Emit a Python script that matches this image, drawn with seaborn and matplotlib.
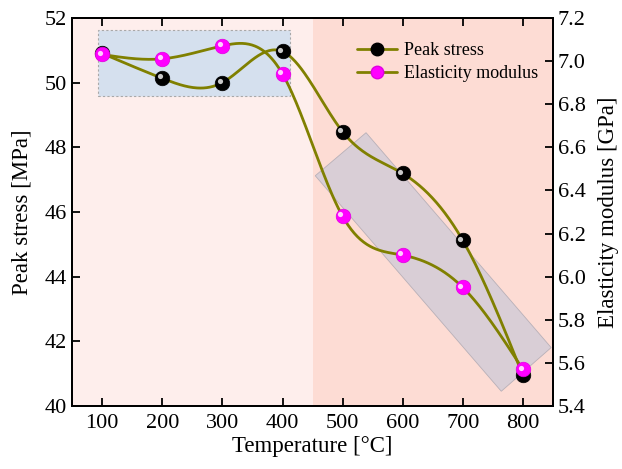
import numpy as np
import pandas as pd
import matplotlib
matplotlib.use("Agg")
import matplotlib.pyplot as plt
import seaborn as sns
from matplotlib.patches import Rectangle, Polygon
from matplotlib.lines import Line2D

# DATA
temperature = [100, 200, 300, 400, 500, 600, 700, 800]
peak_stress = [50.9, 50.13, 50.0, 50.96, 48.48, 47.19, 45.12, 40.95]
elastic_modulus = [7.03, 7.01, 7.07, 6.94, 6.28, 6.10, 5.95, 5.57]


def natural_spline(x, y, n=400):
    # natural cubic spline, used only to draw the smooth connecting line
    x = np.asarray(x, float)
    y = np.asarray(y, float)
    k = len(x)
    h = np.diff(x)
    A = np.zeros((k, k))
    b = np.zeros(k)
    A[0, 0] = A[-1, -1] = 1
    for i in range(1, k - 1):
        A[i, i - 1] = h[i - 1]
        A[i, i] = 2 * (h[i - 1] + h[i])
        A[i, i + 1] = h[i]
        b[i] = 6 * ((y[i + 1] - y[i]) / h[i] - (y[i] - y[i - 1]) / h[i - 1])
    m = np.linalg.solve(A, b)
    xs = np.linspace(x[0], x[-1], n)
    idx = np.clip(np.searchsorted(x, xs) - 1, 0, k - 2)
    t0 = x[idx + 1] - xs
    t1 = xs - x[idx]
    hi = h[idx]
    ys = (m[idx] * t0 ** 3 + m[idx + 1] * t1 ** 3) / (6 * hi) \
        + (y[idx] / hi - m[idx] * hi / 6) * t0 \
        + (y[idx + 1] / hi - m[idx + 1] * hi / 6) * t1
    return xs, ys


sns.set_style("ticks")
plt.rcParams["font.family"] = ["Liberation Serif", "DejaVu Serif"]
plt.rcParams["text.color"] = "black"
plt.rcParams["axes.labelcolor"] = "black"

fig = plt.figure(figsize=(6.22, 4.69), dpi=100)
ax = fig.add_axes([0.116, 0.134, 0.773, 0.828])
ax2 = ax.twinx()
ax.set_zorder(0)
ax2.set_zorder(1)
ax2.patch.set_visible(False)

line_col = "#808000"

# background zones
ax.axvspan(50, 450, color="#FEEEEC", zorder=0, lw=0)
ax.axvspan(450, 850, color="#FDDCD4", zorder=0, lw=0)
ax.add_patch(Rectangle((93, 49.59), 320, 2.04, facecolor="#D5E0EE", edgecolor="#A8A8A8",
                       lw=0.8, ls=(0, (2, 2)), zorder=1))
ax.add_patch(Polygon([(539, 48.45), (847, 41.81), (764, 40.46), (454.5, 47.12)], closed=True,
                     facecolor="#D9CED6", edgecolor="#B8B0B8", lw=0.6, zorder=1))

# curves
xs, ys = natural_spline(temperature, peak_stress)
sns.lineplot(x=xs, y=ys, ax=ax, color=line_col, lw=2.0, zorder=3)
xs2, ys2 = natural_spline(temperature, elastic_modulus)
sns.lineplot(x=xs2, y=ys2, ax=ax2, color=line_col, lw=2.0, zorder=3)

df = pd.DataFrame({"T": temperature, "stress": peak_stress, "modulus": elastic_modulus})
sns.scatterplot(data=df, x="T", y="stress", ax=ax, color="black", s=110,
                edgecolor="black", linewidth=0.5, zorder=4)
sns.scatterplot(data=df, x="T", y="modulus", ax=ax2, color="#FF00FF", s=110,
                edgecolor="#E000E0", linewidth=0.5, zorder=4)

# highlight dots for sphere look
ax.scatter(np.array(temperature) - 4, np.array(peak_stress) + 0.06, s=14,
           color="#C8C8C8", lw=0, zorder=5)
ax2.scatter(np.array(temperature) - 4, np.array(elastic_modulus) + 0.009, s=14,
            color="#FFD0FF", lw=0, zorder=5)

ax.set_xlim(50, 850)
ax.set_ylim(40, 52)
ax2.set_ylim(5.4, 7.2)
ax.set_xticks(temperature)
ax.set_yticks(np.arange(40, 53, 2))
mod_ticks = np.round(np.arange(5.4, 7.21, 0.2), 1)
ax2.set_yticks(mod_ticks)
ax2.set_yticklabels([f"{v:.1f}" for v in mod_ticks])

ax.set_xlabel("Temperature [\u00b0C]", fontsize=16.5, labelpad=2)
ax.set_ylabel("Peak stress [MPa]", fontsize=16.5, labelpad=9)
ax2.set_ylabel("Elasticity modulus [GPa]", fontsize=16.5, labelpad=9)

for a in (ax, ax2):
    a.tick_params(direction="in", length=6, width=1.3, labelsize=16, colors="black")
    for s in a.spines.values():
        s.set_linewidth(1.4)
        s.set_color("black")
        s.set_visible(True)
ax.tick_params(axis="x", top=True, pad=6)
ax.tick_params(axis="y", right=False)

handles = [
    Line2D([0], [0], color=line_col, lw=2.0, marker="o", markersize=9,
           markerfacecolor="black", markeredgecolor="black"),
    Line2D([0], [0], color=line_col, lw=2.0, marker="o", markersize=9,
           markerfacecolor="#FF00FF", markeredgecolor="#E000E0"),
]
ax2.legend(handles, ["Peak stress", "Elasticity modulus"], loc="upper right",
           bbox_to_anchor=(0.995, 0.97), frameon=False, fontsize=13,
           handlelength=2.2, handletextpad=0.4, labelspacing=0.35, borderaxespad=0.3)

fig.savefig("out.png", dpi=100)
